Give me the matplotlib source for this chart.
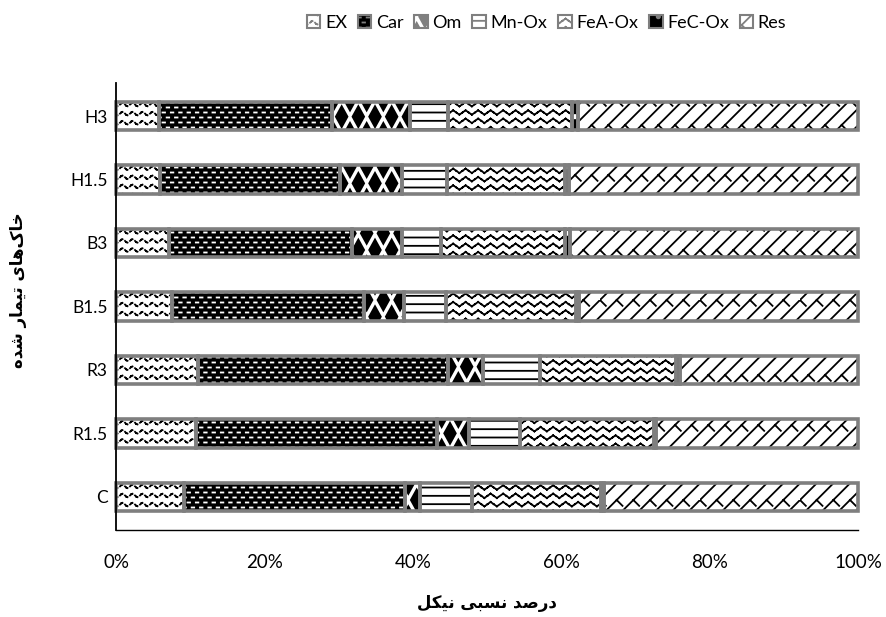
import warnings
import numpy as np
import matplotlib
matplotlib.use('Agg')
import matplotlib.pyplot as plt
from matplotlib import hatch as mhatch
from matplotlib.patches import Patch
from matplotlib.path import Path

warnings.filterwarnings('ignore')

treatments = ['C', 'R1.5', 'R3', 'B1.5', 'B3', 'H1.5', 'H3']
fractions = ['EX', 'Car', 'Om', 'Mn-Ox', 'FeA-Ox', 'FeC-Ox', 'Res']

# nickel share of each fraction (%), treatments in the order above
ex = [9.1, 10.8, 11.1, 7.5, 7.1, 5.9, 5.8]
car = [29.8, 32.5, 33.6, 25.9, 24.7, 24.3, 23.3]
om = [2.1, 4.2, 4.8, 5.4, 6.8, 8.4, 10.5]
mn_ox = [7.0, 6.9, 7.6, 5.6, 5.2, 6.0, 5.1]
fea_ox = [17.3, 18.1, 18.4, 17.6, 16.7, 15.9, 16.8]
fec_ox = [0.5, 0.3, 0.5, 0.4, 0.7, 0.6, 0.8]
res = [34.2, 27.2, 24.0, 37.6, 38.8, 38.9, 37.7]

xticks = [0, 20, 40, 60, 80, 100]

x_title = '\uFEDE\uFEDC\uFEF4\uFEE7 \uFEF0\uFE92\uFEB4\uFEE7 \uFEAA\uFEBB\uFEAD\uFEA9'
y_title = '\uFEE9\uFEAA\uFEB7 \uFEAD\uFE8E\uFEE4\uFEF4\uFE97 \uFEEF\uFE8E\uFEEB\uFB8E\uFE8E\uFEA7'


# ---- extra hatch patterns (one tile = 1 inch) ----
class SegHatch(mhatch.HatchPatternBase):
    key = '?'

    def __init__(self, hatch, density):
        segs = self.build() if self.key in hatch else []
        self.segs = np.asarray(segs, float).reshape(-1, 2, 2)
        self.num_vertices = 2 * len(self.segs)
        self.filled = False

    def build(self):
        return []

    def set_vertices_and_codes(self, vertices, codes):
        vertices[:] = self.segs.reshape(-1, 2)
        codes[0::2] = Path.MOVETO
        codes[1::2] = Path.LINETO


def polyline_segs(pts, keep=None):
    segs = []
    for i in range(len(pts) - 1):
        if keep is None or keep(i):
            segs.append([pts[i], pts[i + 1]])
    return segs


class SmallWaves(SegHatch):
    key = 'w'

    def build(self):
        segs = []
        nrows, nper, amp = 11, 10, 0.017
        xs = np.linspace(0, 1, nper * 8 + 1)
        for r in range(nrows):
            y0 = (r + 0.5) / nrows
            pts = np.column_stack([xs, y0 + amp * np.sin(2 * np.pi * nper * xs)])
            segs += polyline_segs(pts, keep=lambda i: i % 4 in (0, 1))
        return segs


class ZigZag(SegHatch):
    key = 'z'

    def build(self):
        segs = []
        nrows, nper, amp = 12, 8, 0.022
        xs = np.linspace(0, 1, nper * 4 + 1)
        offs = amp * np.array([0, 1, 0, -1] * nper + [0])
        for r in range(nrows):
            y0 = (r + 0.5) / nrows
            segs += polyline_segs(np.column_stack([xs, y0 + offs]))
        return segs


class Dashes(SegHatch):
    key = 'c'

    def build(self):
        segs = []
        nrows, nper, dash = 20, 12, 0.025
        for r in range(nrows):
            y = (r + 0.5) / nrows
            shift = 0.5 if r % 2 else 0.0
            for k in range(-1, nper + 1):
                x0 = (k + shift) / nper
                segs.append([(x0, y), (x0 + dash, y)])
        return segs


class Shingles(SegHatch):
    key = 'r'

    def build(self):
        segs = []
        step = 1 / 6
        t = step * 0.35
        for c in np.arange(-1, 1, step):
            segs.append([(c, 0), (c + 1, 1)])
            for j in range(0, 5):
                y = j / 4
                x = c + y
                if -0.2 < x < 1.2:
                    segs.append([(x, y), (x + t, y - t)])
        return segs


class Diamonds(mhatch.HatchPatternBase):
    key = 'd'

    def __init__(self, hatch, density):
        self.centers = []
        if self.key in hatch:
            nrows, nper = 6, 6
            for r in range(-1, nrows + 1):
                for k in range(-1, nper + 1):
                    self.centers.append(((k + 0.5 * (r % 2)) / nper, r / nrows))
        self.num_vertices = 5 * len(self.centers)
        self.filled = True

    def set_vertices_and_codes(self, vertices, codes):
        hw, hh = 0.058, 0.105
        for i, (cx, cy) in enumerate(self.centers):
            vertices[5 * i:5 * i + 5] = [(cx - hw, cy), (cx, cy + hh), (cx + hw, cy),
                                         (cx, cy - hh), (cx - hw, cy)]
            codes[5 * i:5 * i + 5] = [Path.MOVETO, Path.LINETO, Path.LINETO,
                                      Path.LINETO, Path.CLOSEPOLY]


mhatch._hatch_types.extend([SmallWaves, ZigZag, Dashes, Shingles, Diamonds])

plt.rcParams['font.family'] = ['Lato', 'DejaVu Sans']
plt.rcParams['hatch.linewidth'] = 1.3

# face colour, hatch colour, hatch code per fraction
styles = [
    ('white', 'black', 'w'),
    ('black', 'white', 'c'),
    ('white', 'black', 'd'),
    ('white', 'black', '--'),
    ('white', 'black', 'z'),
    ('black', 'white', '.'),
    ('white', 'black', 'r'),
]
series = [ex, car, om, mn_ox, fea_ox, fec_ox, res]
border = '#7f7f7f'

fig = plt.figure(figsize=(8.86, 6.17), dpi=100)
ax = fig.add_axes([0.131, 0.141, 0.8375, 0.7245])

y = np.arange(len(treatments))
left = np.zeros(len(treatments))
handles = []
for name, vals, (fc, hc, hp) in zip(fractions, series, styles):
    vals = np.array(vals)
    ax.barh(y, vals, left=left, height=0.45, color=fc, edgecolor=hc,
            linewidth=0, hatch=hp, zorder=1)
    ax.barh(y, vals, left=left, height=0.45, fill=False, edgecolor=border,
            linewidth=2.6, zorder=2, clip_on=False)
    left += vals
    handles.append(Patch(facecolor=fc, edgecolor=border, hatch=hp, linewidth=1.5, label=name))

ax.set_xlim(0, 100)
ax.set_ylim(-0.52, 6.52)
ax.set_xticks(xticks)
ax.set_xticklabels([f'{v}%' for v in xticks])
ax.set_yticks(y)
ax.set_yticklabels(treatments)
ax.tick_params(length=0)
ax.tick_params(axis='x', pad=17, labelsize=13.5)
ax.tick_params(axis='y', pad=6, labelsize=12.5)

for side in ['top', 'right']:
    ax.spines[side].set_visible(False)
ax.spines['left'].set_linewidth(1.3)
ax.spines['bottom'].set_linewidth(1.0)
ax.spines['left'].set_zorder(3)

fig.legend(handles=handles, loc='center', bbox_to_anchor=(0.617, 0.963), ncol=7,
           frameon=False, fontsize=13, handlelength=0.75, handleheight=0.75,
           handletextpad=0.25, columnspacing=0.6)

fig.text(0.5497, 1 - 603 / 617, x_title, ha='center', va='center',
         fontsize=12, fontweight='bold', family=['DejaVu Sans'])
fig.text(18 / 886, 1 - 290 / 617, y_title, ha='center', va='center', rotation=90,
         fontsize=12, fontweight='bold', family=['DejaVu Sans'])

fig.savefig('out.png', dpi=100)
